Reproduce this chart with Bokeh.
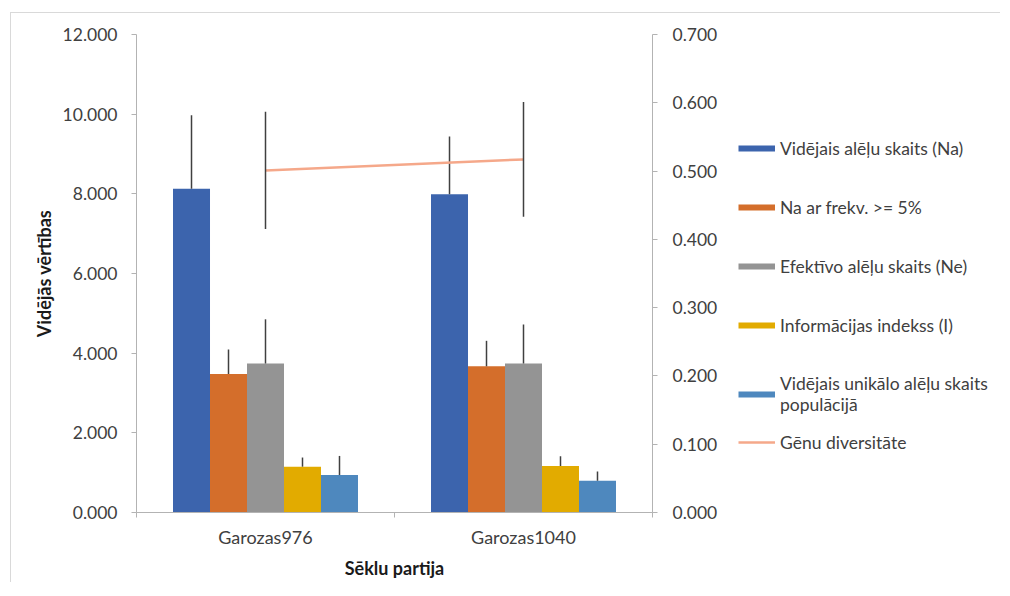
from bokeh.plotting import figure
from bokeh.layouts import row
from bokeh.models import (Range1d, LinearAxis, FixedTicker, NumeralTickFormatter,
                          Legend, LegendItem)
from bokeh.embed import file_html
from bokeh.resources import INLINE

# ---- data ----
categories = ["Garozas976", "Garozas1040"]
bar_names = ["Vidējais alēļu skaits (Na)", "Na ar frekv. >= 5%",
             "Efektīvo alēļu skaits (Ne)", "Informācijas indekss (I)",
             "Vidējais unikālo alēļu skaits\npopulācijā"]
na = [8.13, 7.99]
na_err = [1.84, 1.45]
na5 = [3.48, 3.67]
na5_err = [0.61, 0.64]
ne = [3.74, 3.74]
ne_err = [1.11, 0.98]
info = [1.15, 1.17]
info_err = [0.23, 0.24]
uniq = [0.94, 0.80]
uniq_err = [0.48, 0.23]
line_name = "Gēnu diversitāte"
he = [0.501, 0.517]
he_err = [0.086, 0.084]
y_ticks = [0, 2, 4, 6, 8, 10, 12]
y2_ticks = [0.0, 0.1, 0.2, 0.3, 0.4, 0.5, 0.6, 0.7]

# ---- styles ----
bar_colors = ["#3C64AD", "#D46E2B", "#949494", "#E2AB00", "#4E88BE"]
line_color = "#F5A88A"
err_color = "#404040"
axis_color = "#B3B3B3"
text_color = "#404040"
FONT = "Lato"
NAN = float("nan")

bar_values = [na, na5, ne, info, uniq]
bar_errors = [na_err, na5_err, ne_err, info_err, uniq_err]

p = figure(frame_width=516, frame_height=478,
           x_range=Range1d(0, len(categories)), y_range=Range1d(0, 12),
           output_backend="svg", toolbar_location=None,
           min_border_left=125, min_border_right=70,
           min_border_top=21, min_border_bottom=70)
p.outline_line_color = None
p.xgrid.grid_line_color = None
p.ygrid.grid_line_color = None
p.background_fill_color = "white"
p.border_fill_color = "white"

p.extra_y_ranges = {"r": Range1d(0, 0.7)}

cat_pos = [i + 0.5 for i in range(len(categories))]
bar_w = 0.1434
n = len(bar_values)

for k, (vals, errs, col) in enumerate(zip(bar_values, bar_errors, bar_colors)):
    xs = [c + (k - (n - 1) / 2) * bar_w for c in cat_pos]
    p.vbar(x=xs, top=vals, width=bar_w, fill_color=col, line_color=None)
    p.segment(x0=xs, y0=vals, x1=xs, y1=[v + e for v, e in zip(vals, errs)],
              line_color=err_color, line_width=1.5)

p.line(x=cat_pos, y=he, line_color=line_color, line_width=2.5, y_range_name="r")
p.segment(x0=cat_pos, y0=[v - e for v, e in zip(he, he_err)],
          x1=cat_pos, y1=[v + e for v, e in zip(he, he_err)],
          line_color=err_color, line_width=1.5, y_range_name="r")

# ---- axes ----
xa = p.xaxis[0]
xa.ticker = FixedTicker(ticks=cat_pos, minor_ticks=list(range(len(categories) + 1)))
xa.major_label_overrides = {c: name for c, name in zip(cat_pos, categories)}
xa.axis_label = "Sēklu partija"
xa.major_tick_line_color = None
xa.major_tick_out = 5
xa.minor_tick_out = 5
xa.minor_tick_in = 0
xa.minor_tick_line_color = axis_color
xa.major_label_standoff = 8
xa.axis_label_standoff = 6

ya = p.yaxis[0]
ya.ticker = FixedTicker(ticks=y_ticks)
ya.formatter = NumeralTickFormatter(format="0.000")
ya.axis_label = "Vidējās vērtības"
ya.major_label_standoff = 14
ya.axis_label_standoff = 5

ya2 = LinearAxis(y_range_name="r", ticker=FixedTicker(ticks=y2_ticks),
                 formatter=NumeralTickFormatter(format="0.000"))
ya2.major_label_standoff = 15
p.add_layout(ya2, "right")

for ax in [xa, ya, ya2]:
    ax.axis_line_color = axis_color
    ax.axis_line_width = 1
    ax.major_label_text_font = FONT
    ax.major_label_text_color = text_color
    ax.axis_label_text_font = FONT
    ax.axis_label_text_font_style = "bold"
    ax.axis_label_text_color = "#1A1A1A"
    ax.axis_label_text_font_size = "18px"
for ax in [ya, ya2]:
    ax.major_tick_line_color = axis_color
    ax.major_tick_out = 5
    ax.major_tick_in = 0
    ax.minor_tick_line_color = None
    ax.major_label_text_font_size = "17.5px"
xa.major_label_text_font_size = "18px"

# ---- legend panel (separate figure to the right) ----
pl = figure(width=278, height=569, x_range=Range1d(0, 1), y_range=Range1d(0, 1),
            output_backend="svg", toolbar_location=None,
            x_axis_location=None, y_axis_location=None, min_border=0)
pl.outline_line_color = None
pl.xgrid.grid_line_color = None
pl.ygrid.grid_line_color = None

items_a = []
for nm, col in zip(bar_names, bar_colors):
    r = pl.line(x=[NAN], y=[NAN], line_color=col, line_width=6)
    items_a.append(LegendItem(label=nm, renderers=[r]))
r_line = pl.line(x=[NAN], y=[NAN], line_color=line_color, line_width=2.5)
items_b = [LegendItem(label=line_name, renderers=[r_line])]


def make_legend(items, loc):
    leg = Legend(items=items, location=loc)
    leg.border_line_color = None
    leg.background_fill_alpha = 0
    leg.padding = 0
    leg.margin = 0
    leg.spacing = 37
    leg.glyph_width = 37
    leg.glyph_height = 22
    leg.label_height = 22
    leg.label_standoff = 5
    leg.label_text_font = FONT
    leg.label_text_font_size = "17.5px"
    leg.label_text_color = text_color
    return leg


pl.add_layout(make_legend(items_a, (16, 97)))
pl.add_layout(make_legend(items_b, (16, 59)))

layout = row(p, pl, spacing=0)
layout.styles = {"border-top": "1px solid #D9D9D9", "border-left": "1px solid #D9D9D9",
                 "margin-left": "10px", "margin-top": "12px"}

open("out.html", "w").write(file_html(layout, INLINE))
